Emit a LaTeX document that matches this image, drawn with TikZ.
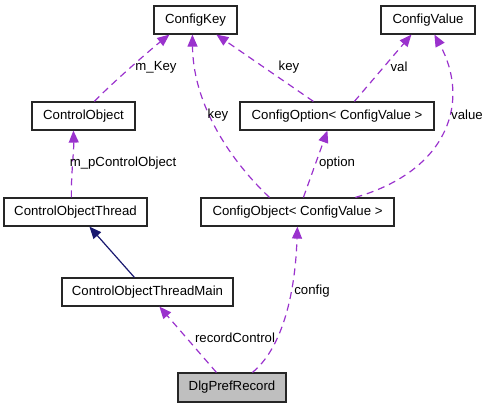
\documentclass[tikz,border=0pt]{standalone}
\usepackage{fontspec}
\setmainfont{Liberation Sans}
\usetikzlibrary{arrows.meta}
\definecolor{purp}{HTML}{9A32CD}
\definecolor{navyc}{HTML}{191970}
\definecolor{boxgray}{HTML}{BFBFBF}
\begin{document}
\begin{tikzpicture}[x=1pt,y=-1pt,
  box/.style={draw=black!85,line width=1.2pt,minimum height=28pt,inner sep=0pt,font=\fontsize{13.2}{15}\selectfont},
  uses/.style={draw=purp,line width=1.2pt,dash pattern=on 7pt off 5pt,-{Triangle[length=12pt,width=10pt,fill=purp]}},
  inh/.style={draw=navyc,line width=1.2pt,-{Triangle[length=12pt,width=10pt,fill=navyc]}},
  lbl/.style={font=\fontsize{13.2}{15}\selectfont,inner sep=1pt}]
\useasboundingbox (0,0) rectangle (489,408);
\node[box,minimum width=83pt] (ck) at (195.5,20) {ConfigKey};
\node[box,minimum width=94pt] (cv) at (428,20) {ConfigValue};
\node[box,minimum width=103pt] (co) at (83.5,116) {ControlObject};
\node[box,minimum width=194pt] (cop) at (337,116) {ConfigOption< ConfigValue >};
\node[box,minimum width=143pt] (cot) at (75.5,212) {ControlObjectThread};
\node[box,minimum width=193pt] (cob) at (297.5,212) {ConfigObject< ConfigValue >};
\node[box,minimum width=171pt] (cotm) at (147.5,292) {ControlObjectThreadMain};
\node[box,minimum width=108pt,minimum height=29pt,fill=boxgray] (dpr) at (232,387.5) {DlgPrefRecord};
% edges
\draw[uses] ([xshift=63pt]co.north west) .. controls (110,85) and (150,50) .. ([xshift=16pt]ck.south west);
\draw[uses] ([xshift=68pt]cot.north west) .. controls (71,175) and (74,150) .. ([xshift=42pt]co.south west);
\draw[uses] ([xshift=69pt]cob.north west) .. controls (225,155) and (193,100) .. ([xshift=39pt]ck.south west);
\draw[uses] ([xshift=74pt]cop.north west) -- ([xshift=63pt]ck.south west);
\draw[uses] ([xshift=115pt]cop.north west) -- ([xshift=31pt]cv.south west);
\draw[uses] ([xshift=155pt]cob.north west) .. controls (450,170) and (470,100) .. ([xshift=54pt]cv.south west);
\draw[uses] ([xshift=103pt]cob.north west) -- ([xshift=88pt]cop.south west);
\draw[inh] ([xshift=73pt]cotm.north west) -- ([xshift=86pt]cot.south west);
\draw[uses] ([xshift=39pt]dpr.north west) -- ([xshift=98pt]cotm.south west);
\draw[uses] ([xshift=75pt]dpr.north west) .. controls (280,350) and (295,300) .. ([xshift=97pt]cob.south west);
% labels
\node[lbl] (l1) at (156,67) {m\_Key};
\node[lbl] (l2) at (123,163) {m\_pControlObject};
\node[lbl] (l3) at (218,115) {key};
\node[lbl] (l4) at (289,67) {key};
\node[lbl] (l5) at (399,67) {val};
\node[lbl] (l6) at (467,115) {value};
\node[lbl] (l7) at (337,163) {option};
\node[lbl] (l8) at (235,338) {recordControl};
\node[lbl] (l9) at (312,291) {config};
\end{tikzpicture}
\end{document}
